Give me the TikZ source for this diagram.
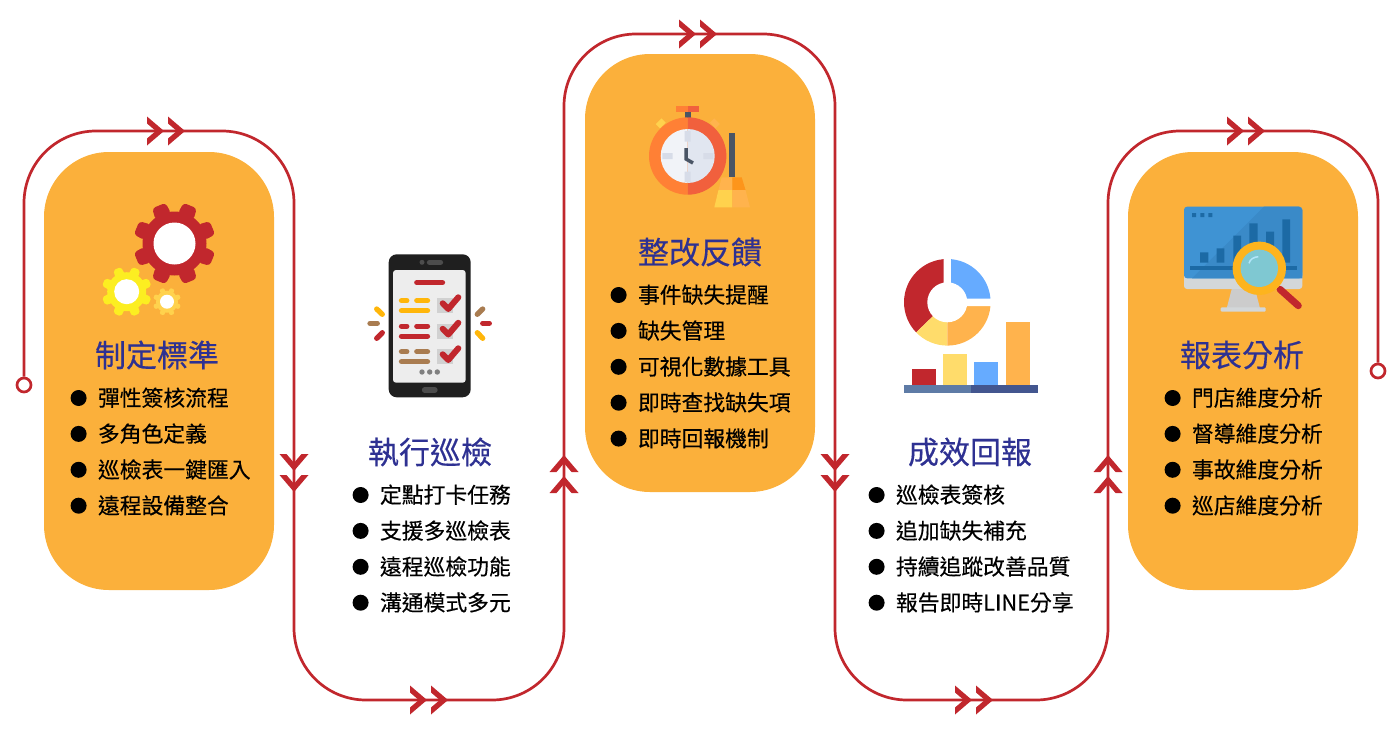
\documentclass[tikz,border=0pt]{standalone}
\usepackage{fontspec}
\setmainfont[FakeBold=0.35]{Noto Sans CJK TC}
\usepackage{tikz}
\usetikzlibrary{positioning}
\definecolor{cardorange}{HTML}{FBB03B}
\definecolor{trackred}{HTML}{C1272D}
\definecolor{headblue}{HTML}{2E3192}
\definecolor{slategrey}{HTML}{4A5565}
\definecolor{gearyellow}{HTML}{FCEE21}
\definecolor{gearpale}{HTML}{FFD24D}
\definecolor{rowyellow}{HTML}{FFB60A}
\definecolor{rowbrown}{HTML}{A97C50}
\definecolor{watchleft}{HTML}{FF8035}
\definecolor{watchright}{HTML}{F1603D}
\definecolor{faceleft}{HTML}{F1F3F8}
\definecolor{faceright}{HTML}{E1E6F0}
\definecolor{facetick}{HTML}{D7DCE8}
\definecolor{pieyellow}{HTML}{FFDC6B}
\definecolor{pieorange}{HTML}{FFB34D}
\definecolor{pieblue}{HTML}{66ABFF}
\definecolor{baseleft}{HTML}{5E7BA6}
\definecolor{baseright}{HTML}{43568F}
\definecolor{screenblue}{HTML}{3F93D3}
\definecolor{screenshade}{HTML}{3A8AC8}
\definecolor{bardark}{HTML}{1C6AA5}
\definecolor{bezelgrey}{HTML}{D3D7D9}
\definecolor{lensblue}{HTML}{7FC8D2}
\tikzstyle{card}=[rectangle, rounded corners=65pt, minimum width=230pt, minimum height=438pt, fill=cardorange]
\tikzstyle{heading}=[text=headblue, font=\fontsize{31pt}{31pt}\selectfont, inner sep=0pt]
\tikzstyle{bullet}=[circle, fill=black, inner sep=0pt, minimum size=16pt, text width=0pt, text height=0pt, text depth=0pt, xshift=-11pt]
\tikzstyle{item}=[font=\fontsize{21.8pt}{22pt}\selectfont, inner sep=0pt, text width=190pt, align=left, text height=19pt, text depth=3pt, label={[bullet]left:{}}]
\tikzstyle{track}=[trackred, line width=2.7pt, rounded corners=72pt]
\tikzstyle{endpoint}=[circle, draw=trackred, line width=2.7pt, fill=white, minimum size=14pt, inner sep=0pt]
\tikzstyle{pill}=[line width=5.3pt, line cap=round]
\tikzset{twinhead/.pic={
	\fill[trackred] (0,0) -- (-17,-14.5) -- (-17,-7.5) -- (-8.2,0) -- (-17,7.5) -- (-17,14.5) -- cycle;
	\fill[trackred] (-21,0) -- (-38,-14.5) -- (-38,-7.5) -- (-29.2,0) -- (-38,7.5) -- (-38,14.5) -- cycle;
}}
\newcommand{\gearicon}[6]{
	\fill[#6] (#1) circle[radius=#2];
	\foreach \ang in {22.5,67.5,...,337.5}
		\fill[#6, shift={(#1)}, rotate=\ang, rounded corners={0.2*#4pt}] (#2-3,-#4/2) -- (#2+#3,-#4*0.42) -- (#2+#3,#4*0.42) -- (#2-3,#4/2) -- cycle;
	\fill[white] (#1) circle[radius=#5];
}
\begin{document}
\begin{tikzpicture}[x=1pt, y=-1pt, node distance=13.5pt]
	\useasboundingbox (0,0) rectangle (1400,734);
	\node(card1)[card] at (159,371){};
	\node(card3)[card] at (700,273){};
	\node(card5)[card] at (1243,371){};

	\node(start)[endpoint] at (24,385){};
	\node(finish)[endpoint] at (1378,371){};
	\coordinate(turn1) at (294,131);
	\coordinate(turn2) at (294,700);
	\coordinate(turn3) at (564,700);
	\coordinate(turn4) at (564,34);
	\coordinate(turn5) at (835,34);
	\coordinate(turn6) at (835,700);
	\coordinate(turn7) at (1108,700);
	\coordinate(turn8) at (1108,131);
	\coordinate(turn9) at (1378,131);
	\draw[track](start.north) |- (turn1) -- (turn2) -- (turn3) -- (turn4) -- (turn5) -- (turn6) -- (turn7) -- (turn8) -- (turn9) -- (finish.north);

	\pic at (185,131){twinhead};
	\pic[rotate=-90] at (294,492){twinhead};
	\pic at (448,700){twinhead};
	\pic[rotate=90] at (564,455){twinhead};
	\pic at (717,34){twinhead};
	\pic[rotate=-90] at (835,492){twinhead};
	\pic at (993,700){twinhead};
	\pic[rotate=90] at (1108,455){twinhead};
	\pic at (1265,131){twinhead};

	\node(heading1)[heading] at (157,355){制定標準};
	\node(item11)[item] at (193,398){彈性簽核流程};
	\node(item12)[item, below=of item11]{多角色定義};
	\node(item13)[item, below=of item12]{巡檢表一鍵匯入};
	\node(item14)[item, below=of item13]{遠程設備整合};

	\node(heading2)[heading] at (430,452){執行巡檢};
	\node(item21)[item] at (475,495){定點打卡任務};
	\node(item22)[item, below=of item21]{支援多巡檢表};
	\node(item23)[item, below=of item22]{遠程巡檢功能};
	\node(item24)[item, below=of item23]{溝通模式多元};

	\node(heading3)[heading] at (700,252){整改反饋};
	\node(item31)[item] at (733,295){事件缺失提醒};
	\node(item32)[item, below=of item31]{缺失管理};
	\node(item33)[item, below=of item32]{可視化數據工具};
	\node(item34)[item, below=of item33]{即時查找缺失項};
	\node(item35)[item, below=of item34]{即時回報機制};

	\node(heading4)[heading] at (970,452){成效回報};
	\node(item41)[item] at (991,495){巡檢表簽核};
	\node(item42)[item, below=of item41]{追加缺失補充};
	\node(item43)[item, below=of item42]{持續追蹤改善品質};
	\node(item44)[item, below=of item43]{報告即時LINE分享};

	\node(heading5)[heading] at (1242,355){報表分析};
	\node(item51)[item] at (1287,398){門店維度分析};
	\node(item52)[item, below=of item51]{督導維度分析};
	\node(item53)[item, below=of item52]{事故維度分析};
	\node(item54)[item, below=of item53]{巡店維度分析};

	% gears
	\gearicon{174.5,243.5}{32}{9}{17}{21}{trackred}
	\gearicon{126.7,291.7}{19.5}{5.5}{10}{12.5}{gearyellow}
	\gearicon{167,301.7}{11}{3}{5.5}{7}{gearpale}

	% phone
	\fill[black!88, rounded corners=8pt] (388.7,254.3) rectangle (470.7,397.3);
	\fill[black!7, rounded corners=3pt] (393,270) rectangle (465.7,382.7);
	\fill[black!70] (422,262.3) circle[radius=2.5];
	\draw[black!70, pill] (429.5,262.3) -- (440.5,262.3);
	\draw[black!70, pill] (424.5,390) -- (435,390);
	\draw[trackred, pill] (416.8,282.7) -- (442.5,282.7);
	\foreach \rowy/\rowc in {0/rowyellow, 25.5/trackred, 51/rowbrown}{
		\draw[\rowc, pill] (401.5,300.7+\rowy) -- (406.8,300.7+\rowy);
		\draw[\rowc, pill] (416.8,300.7+\rowy) -- (427.5,300.7+\rowy);
		\draw[\rowc, pill] (401.5,310.7+\rowy) -- (427.5,310.7+\rowy);
		\fill[black!18] (437.3,298.3+\rowy) rectangle (452.7,313.3+\rowy);
		\draw[trackred, line width=6pt, line cap=round, line join=round] (442.7,303.3+\rowy) -- (448.3,309+\rowy) -- (458.3,297.3+\rowy);
	}
	\fill[black!50] (422,372) circle[radius=2.7] (429.7,372) circle[radius=2.7] (437.3,372) circle[radius=2.7];
	\draw[rowyellow, pill] (376.7,309) -- (382.3,314.3);
	\draw[rowbrown, pill] (370,323.3) -- (377.3,323.3);
	\draw[trackred, pill] (376.7,338.3) -- (382.3,332.7);
	\draw[rowbrown, pill] (482.7,309) -- (477.3,314.3);
	\draw[trackred, pill] (482.7,323.3) -- (489.3,323.3);
	\draw[rowyellow, pill] (477.3,332.7) -- (482.7,338.3);

	% stopwatch and broom
	\fill[slategrey] (685,111.7) rectangle (690.7,118.3);
	\fill[watchleft] (676,106) rectangle (687.7,112);
	\fill[watchright] (687.7,106) rectangle (699.3,112);
	\fill[gearpale, rotate around={45:(660.7,123.3)}] (656.7,120.3) rectangle (664.7,126.3);
	\fill[pieorange, rotate around={-45:(715,123.3)}] (711,120.3) rectangle (719,126.3);
	\begin{scope}[shift={(687.7,156)}, y=1pt]
		\fill[watchleft] (90:38.7) arc[start angle=90, end angle=270, radius=38.7] -- cycle;
		\fill[watchright] (90:38.7) arc[start angle=90, end angle=-90, radius=38.7] -- cycle;
		\fill[faceleft] (90:27) arc[start angle=90, end angle=270, radius=27] -- cycle;
		\fill[faceright] (90:27) arc[start angle=90, end angle=-90, radius=27] -- cycle;
		\fill[facetick] (-3,25) rectangle (3,14.3) (-3,-15.7) rectangle (3,-26.3);
		\fill[facetick] (-25.4,-3) rectangle (-15,3) (15.6,-3) rectangle (25.6,3);
		\draw[slategrey, line width=3.5pt] (-1.7,8) -- (-1.7,-3) -- (5.3,-7);
	\end{scope}
	\fill[slategrey] (729.3,132.7) rectangle (735.3,177.3);
	\fill[pieorange] (721.7,177.3) -- (732.3,177.3) -- (732.3,190) -- (718.5,190) -- cycle;
	\fill[orange!55!cardorange] (732.3,177.3) -- (741.7,177.3) -- (745.5,190) -- (732.3,190) -- cycle;
	\fill[gearpale] (718.5,190) -- (732.3,190) -- (732.3,207.3) -- (714.3,207.3) -- cycle;
	\fill[pieorange] (732.3,190) -- (745.5,190) -- (750,207.3) -- (732.3,207.3) -- cycle;

	% donut and bars
	\begin{scope}[shift={(947.3,302.3)}, y=1pt]
		\fill[trackred] (0,0) -- (90:43.3) arc[start angle=90, end angle=224, radius=43.3] -- cycle;
		\fill[pieyellow] (0,0) -- (224:43.3) arc[start angle=224, end angle=270, radius=43.3] -- cycle;
		\fill[pieorange] (0,0) -- (270:43.3) arc[start angle=270, end angle=360, radius=43.3] -- cycle;
		\fill[pieblue] (0,0) -- (0:43.3) arc[start angle=0, end angle=90, radius=43.3] -- cycle;
		\fill[white] (0,0) circle[radius=20];
		\fill[white] (-3.6,0) rectangle (3.6,46) (0,-3.7) rectangle (46,3.7);
	\end{scope}
	\fill[trackred] (911.7,369.3) rectangle (935.7,385);
	\fill[pieyellow] (943,354) rectangle (967,385);
	\fill[pieblue] (974.3,361.7) rectangle (998.3,385);
	\fill[pieorange] (1006,322.3) rectangle (1030,385);
	\fill[baseleft] (904,385) rectangle (971,393.3);
	\fill[baseright] (971,385) rectangle (1037.7,393.3);

	% monitor and lens
	\fill[bezelgrey, rounded corners=3pt] (1184,270) rectangle (1302.3,289);
	\fill[screenblue, rounded corners=3pt] (1184,206.7) rectangle (1302.3,278.3);
	\fill[screenshade] (1264,206.7) -- (1299,206.7) -- (1302.3,210) -- (1302.3,278.3) -- (1192,278.3) -- cycle;
	\fill[black!20] (1231.7,289) -- (1255,289) -- (1260,308.3) -- (1226.7,308.3) -- cycle;
	\fill[bezelgrey, rounded corners=1pt] (1220.7,307.3) rectangle (1265.7,311.7);
	\fill[bardark] (1192,213) rectangle (1196,217) (1200.3,213) rectangle (1204.3,217) (1208.3,213) rectangle (1212.3,217);
	\fill[bardark] (1200,252.3) rectangle (1208.3,262.7) (1216.7,248.3) rectangle (1224.3,262.7) (1233.3,235.7) rectangle (1241,262.7);
	\fill[bardark] (1249.3,223.3) rectangle (1257.7,262.7) (1266,231.7) rectangle (1274,262.7) (1282.3,219.3) rectangle (1290,262.7);
	\fill[bardark] (1190,266.3) rectangle (1296.7,270.3);
	\draw[trackred, line width=7pt, line cap=round] (1280,289.3) -- (1298.3,305.7);
	\fill[rowyellow!60!cardorange] (1259.3,268.3) circle[radius=26.7];
	\fill[lensblue] (1259.3,268.3) circle[radius=18.7];
	\draw[white!70!cyan, line width=1.5pt] (1249,263.3) .. controls (1250,259) and (1254,257) .. (1258.3,256.7);
\end{tikzpicture}
\end{document}
